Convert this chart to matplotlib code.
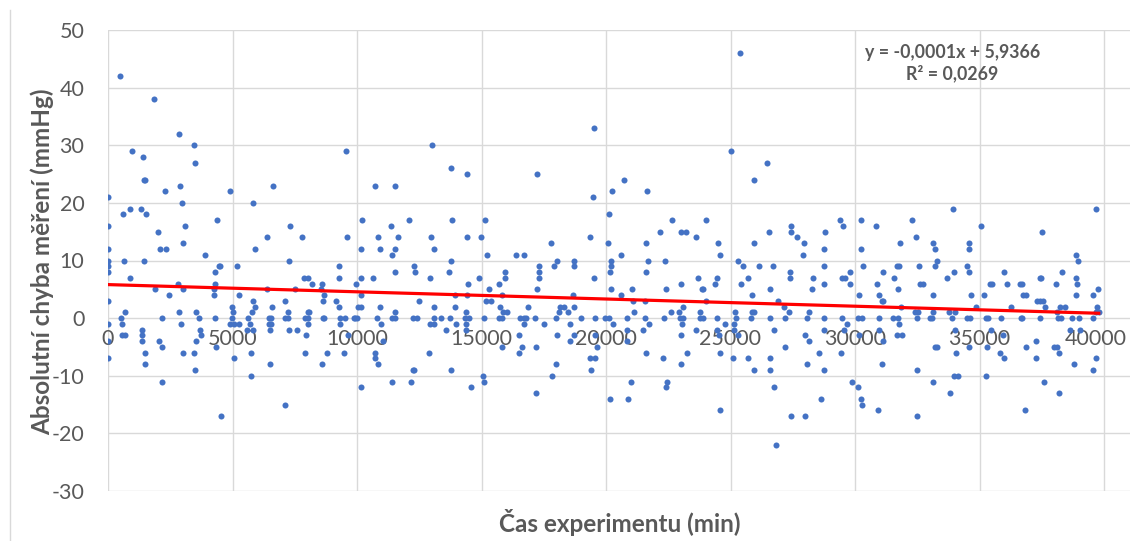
import numpy as np
import matplotlib.pyplot as plt
import matplotlib.transforms as mtransforms
from matplotlib.lines import Line2D

# (cas [min], chyba [mmHg]), split into four x ranges
body_a = [(483, 42), (1836, 38), (2841, 32), (3444, 30), (3484, 27), (951, 29), (1420, 28),
          (1434, 24), (1487, 24), (0, 21), (2305, 22), (2894, 23), (2961, 20), (4891, 22),
          (5829, 20), (6646, 23), (590, 18), (898, 19), (1327, 19), (1528, 18), (0, 16),
          (3082, 16), (4382, 17), (7316, 16), (2010, 15), (2077, 12), (2332, 12), (0, 12),
          (3002, 13), (5923, 12), (6392, 14), (7785, 14), (9581, 14), (9568, 29), (0, 10),
          (0, 9), (0, 8), (643, 10), (1461, 10), (3913, 11), (7276, 10), (4502, 9), (4440, 9),
          (4301, 8), (5199, 9), (9273, 9), (898, 7), (7866, 7), (8027, 7), (9273, 7), (2827, 6),
          (4315, 6), (8201, 6), (8603, 6), (1876, 5), (3002, 5), (4248, 5), (6392, 5), (7491, 5),
          (8549, 5), (2439, 4), (4261, 4), (5266, 4), (8683, 4), (0, 3), (5816, 3), (7089, 3),
          (8616, 3), (9166, 3), (4985, 2), (5910, 2), (6580, 2), (9287, 2), (697, 1), (2868, 1),
          (3551, 1), (5012, 1), (5802, 1), (7209, 1), (8013, 1), (8067, 1),
          (523, 0), (2184, 0), (3658, 0), (4301, 0), (4985, 0), (5628, 0), (6459, 0), (6553, 0),
          (7089, 0), (7209, 0), (7906, 0), (8027, 0), (8616, 0), (8683, 0), (9327, 0), (9501, 0),
          (9876, 0), (0, -1), (549, -1), (2921, -1), (4904, -1), (5052, -1), (5280, -1),
          (5695, -1), (6459, -1), (6553, -1), (8040, -1), (9327, -1), (1353, -2), (3712, -2),
          (5574, -2), (5842, -2), (6499, -2), (7249, -2), (7584, -2), (563, -3), (697, -3),
          (1353, -3), (3725, -3), (7933, -3), (9621, -3), (0, -4), (1353, -4), (2050, -4),
          (3551, -4), (4328, -5), (2184, -5), (1501, -6), (3002, -6), (3444, -6), (5749, -6),
          (7919, -6), (8777, -6), (9460, -6), (0, -7), (5065, -7), (1487, -8), (6486, -8),
          (8603, -8), (3511, -9), (5749, -10), (2171, -11), (7089, -15), (4556, -17)]

body_b = [(13028, 30), (13779, 26), (14409, 25), (17236, 25), (19501, 33), (19474, 21),
          (10724, 23), (11541, 23), (10188, 17), (13806, 17), (15159, 17), (12077, 17),
          (11367, 16), (10844, 14), (11648, 14), (12975, 14), (14422, 14), (14971, 14),
          (19367, 14), (17799, 13), (10161, 12), (10938, 12), (11541, 12), (13095, 12),
          (11420, 11), (15239, 11), (16405, 11), (16687, 11), (13765, 10), (18040, 10),
          (18724, 10), (18724, 9), (12305, 9), (17303, 9), (17906, 9), (11514, 8), (12318, 8),
          (13712, 8), (15936, 8), (17290, 8), (10147, 7), (10630, 7), (12935, 7), (14904, 7),
          (15936, 7), (17290, 7), (19527, 7), (9960, 6), (14462, 6), (15708, 6), (15320, 5),
          (17223, 5), (10161, 4), (13953, 4), (14409, 4), (15829, 4), (18656, 4), (12506, 3),
          (15199, 3), (15373, 3), (10040, 2), (10161, 2), (10938, 2), (13082, 2), (13953, 2),
          (15762, 2), (16861, 2), (18147, 2), (18308, 2), (18724, 2), (11514, 1), (14382, 1),
          (15869, 1), (16043, 1), (18094, 1), (18482, 1),
          (9906, 0), (9987, 0), (10791, 0), (11420, 0), (11528, 0), (12265, 0), (12425, 0),
          (13082, 0), (13390, 0), (13725, 0), (14328, 0), (14516, 0), (15092, 0), (15695, 0),
          (15816, 0), (16539, 0), (16687, 0), (16794, 0), (17142, 0), (17999, 0), (18991, 0),
          (19554, 0), (10951, -1), (12935, -1), (13095, -1), (13993, -1), (14382, -1),
          (16687, -1), (17491, -1), (18549, -1), (13591, -2), (14382, -2), (16526, -3),
          (18027, -3), (18697, -3), (19541, -3), (11045, -4), (18563, -4), (15816, -5),
          (16646, -5), (17196, -5), (19648, -5), (10737, -6), (12881, -6), (16512, -6),
          (10737, -7), (19367, -7), (19554, -7), (10844, -8), (17999, -8), (12238, -9),
          (12278, -9), (13779, -9), (19394, -9), (15079, -10), (17826, -10), (11420, -11),
          (12171, -11), (15105, -11), (10161, -12), (14583, -12), (17196, -13)]

body_c = [(25386, 46), (25000, 29), (26467, 27), (25947, 24), (20720, 24), (20253, 22),
          (21640, 22), (20107, 18), (22640, 17), (24026, 17), (29411, 17), (29504, 16),
          (27411, 16), (22173, 15), (23026, 15), (23200, 15), (26560, 15), (27424, 15),
          (28797, 15), (23626, 14), (27651, 14), (20080, 13), (21626, 13), (24493, 13),
          (25960, 13), (27971, 13), (28771, 12), (20600, 11), (24560, 11), (27918, 11),
          (20187, 10), (21693, 10), (22386, 10), (25306, 10), (20187, 9), (25493, 9),
          (26160, 9), (26720, 9), (28744, 9), (20173, 8), (21613, 8), (27371, 8), (29784, 8),
          (23680, 7), (24466, 7), (25693, 7), (27384, 7), (28304, 7), (29464, 7), (29610, 7),
          (23026, 6), (24386, 6), (25413, 6), (28771, 6), (29784, 6), (20187, 5), (21026, 5),
          (22400, 5), (23840, 5), (23893, 5), (26586, 5), (28264, 5), (20613, 4), (25866, 4),
          (21080, 3), (21573, 3), (24026, 3), (26893, 3), (23080, 2), (27144, 2), (21133, 1),
          (22626, 1), (22946, 1), (23773, 1), (25173, 1), (25866, 1), (25960, 1), (27331, 1),
          (28171, 1),
          (19960, 0), (20120, 0), (20853, 0), (21560, 0), (22346, 0), (22960, 0), (23080, 0),
          (23760, 0), (23880, 0), (24440, 0), (25213, 0), (25813, 0), (26600, 0), (27186, 0),
          (28064, 0), (28771, 0), (29477, 0), (20280, -1), (21720, -1), (23066, -1),
          (24760, -1), (25133, -1), (29664, -1), (20840, -2), (21506, -2), (23600, -2),
          (24466, -2), (25133, -2), (26746, -2), (28771, -2), (29557, -2), (23013, -3),
          (24546, -3), (25306, -3), (27984, -3), (20840, -4), (28171, -4), (27170, -5),
          (21626, -6), (23240, -6), (24586, -6), (28544, -6), (29437, -6), (22280, -7),
          (25093, -7), (25706, -7), (26586, -7), (23026, -8), (28064, -8), (25933, -9),
          (26586, -9), (28771, -9), (21013, -11), (22440, -11), (29877, -11), (22426, -12),
          (26733, -12), (20173, -14), (20880, -14), (28637, -14), (24586, -16), (27437, -17),
          (28010, -17), (26813, -22)]

body_d = [(39680, 19), (33944, 19), (30241, 17), (32273, 17), (30842, 16), (35067, 16),
          (37514, 15), (32460, 14), (31818, 13), (33142, 13), (34572, 13), (30254, 12),
          (33222, 12), (34572, 12), (38864, 11), (33289, 10), (38958, 10), (30321, 9),
          (31698, 9), (31751, 9), (32554, 9), (33209, 9), (34479, 9), (31123, 8), (33971, 8),
          (34572, 8), (35990, 8), (38302, 8), (31578, 7), (33690, 7), (37433, 7), (37487, 7),
          (38891, 7), (30896, 6), (32594, 6), (32741, 6), (35428, 6), (35482, 6), (36096, 6),
          (36645, 6), (36725, 6), (38075, 6), (38931, 6), (31738, 5), (39760, 5), (30160, 4),
          (30949, 4), (33129, 4), (34666, 4), (35174, 4), (36752, 4), (36859, 4), (38891, 4),
          (39573, 4), (31083, 3), (31123, 3), (37313, 3), (37420, 3), (37554, 3), (31832, 2),
          (34853, 2), (36284, 2), (37634, 2), (38222, 2), (38449, 2), (39720, 2), (32420, 1),
          (32540, 1), (33115, 1), (33784, 1), (34024, 1), (38115, 1), (39693, 1), (39787, 1),
          (30120, 0), (30267, 0), (30963, 0), (31537, 0), (31711, 0), (32500, 0), (32995, 0),
          (33102, 0), (33904, 0), (34505, 0), (34626, 0), (35254, 0), (35335, 0), (35883, 0),
          (36658, 0), (36725, 0), (37420, 0), (38155, 0), (38262, 0), (38731, 0), (38998, 0),
          (39560, 0), (31778, -1), (30976, -2), (33997, -2), (35468, -2), (38637, -2),
          (39025, -2), (30147, -3), (31671, -3), (31898, -3), (35963, -3), (31123, -4),
          (37260, -4), (33209, -5), (33302, -5), (34586, -5), (35308, -5), (36859, -5),
          (37995, -5), (38115, -5), (34065, -6), (35816, -6), (38182, -6), (35976, -7),
          (37260, -7), (39693, -7), (31083, -8), (38784, -8), (32500, -9), (39560, -9),
          (33957, -10), (34131, -10), (35241, -10), (33142, -11), (37594, -11), (30107, -12),
          (33810, -13), (38196, -13), (30227, -14), (30281, -15), (30922, -16), (36819, -16),
          (32473, -17)]

rovnice = 'y = -0,0001x + 5,9366\nR² = 0,0269'
x_ticks = np.arange(0, 40001, 5000)
y_ticks = np.arange(-30, 51, 10)

data = np.array(body_a + body_b + body_c + body_d, dtype=float)
cas, chyba = data[:, 0], data[:, 1]

plt.rcParams['font.family'] = ['Lato', 'DejaVu Sans']
plt.rcParams['axes.unicode_minus'] = False
grey = '#595959'

fig = plt.figure(figsize=(11.3, 5.41), dpi=100)
ax = fig.add_axes([108/1130, 50/541, 1 - 108/1130, 461/541])

ax.scatter(cas, chyba, s=19, color='#4472C4', linewidths=0, zorder=3)

# linear trend line
k, q = np.polyfit(cas, chyba, 1)
xt = np.array([0, cas.max()])
ax.plot(xt, k*xt + q, color='#FF0000', lw=2.3, zorder=4)

ax.set_xlim(0, 40000*1022/996)
ax.set_ylim(-30, 50)
ax.set_xticks(x_ticks)
ax.set_yticks(y_ticks)
ax.grid(True, color='#D9D9D9', lw=1)
ax.set_axisbelow(True)
for s in ['top', 'right', 'left']:
    ax.spines[s].set_visible(False)
ax.spines['bottom'].set_position(('data', 0))
ax.spines['bottom'].set_color('none')
ax.tick_params(axis='both', length=0, labelsize=15.5, labelcolor=grey)
ax.tick_params(axis='y', pad=17)
ax.tick_params(axis='x', pad=8)

# last x label pushed left so it stays inside the picture, as Excel does
posun = mtransforms.ScaledTranslation(-8/100, 0, fig.dpi_scale_trans)
last = ax.get_xticklabels()[-1]
last.set_transform(last.get_transform() + posun)

ax.text(0.826, 0.97, rovnice, transform=ax.transAxes, ha='center', va='top',
        fontsize=12.8, fontweight='bold', color=grey, linespacing=1.25)

fig.text(620/1130, 1 - 522/541, 'Čas experimentu (min)', ha='center', va='center',
         fontsize=17.5, fontweight='bold', color=grey)
fig.text(42/1130, 1 - 262/541, 'Absolutní chyba měření (mmHg)', ha='center', va='center',
         rotation=90, fontsize=17.5, fontweight='bold', color=grey)

# chart area border on the left
fig.add_artist(Line2D([10/1130, 10/1130], [0, 1 - 10/541], transform=fig.transFigure,
                      color='#D9D9D9', lw=1))

fig.savefig('out.png', dpi=100)
